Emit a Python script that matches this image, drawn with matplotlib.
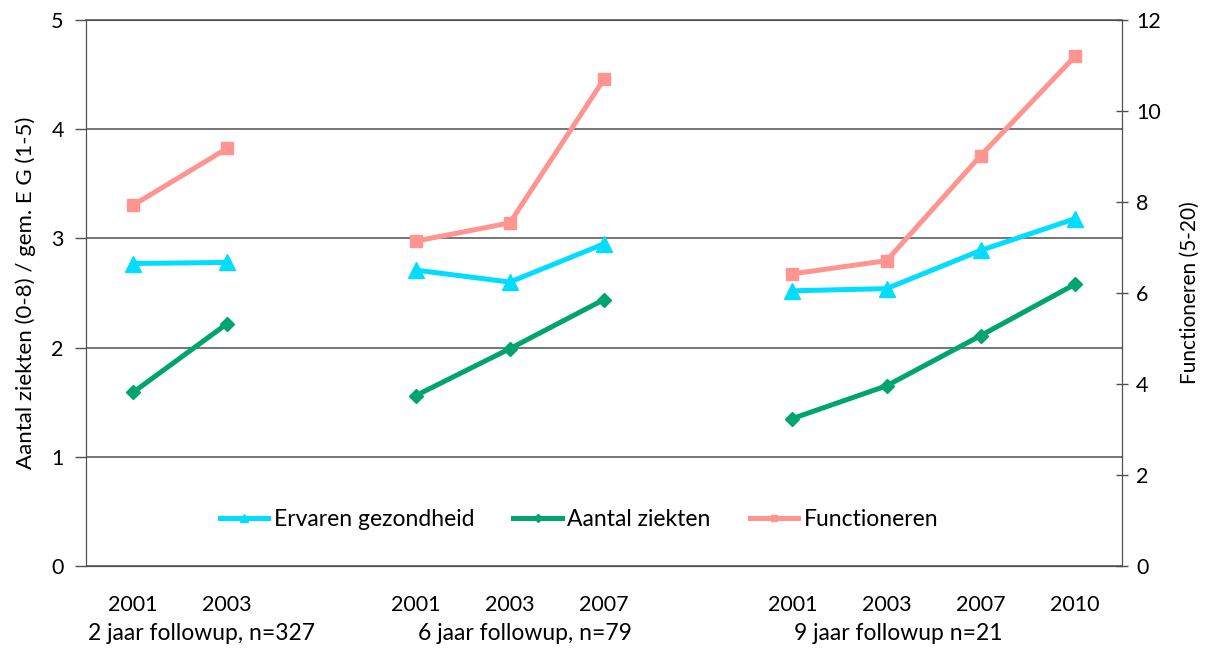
import numpy as np
import matplotlib
matplotlib.use("Agg")
import matplotlib.pyplot as plt
import matplotlib.transforms as mtransforms

plt.rcParams['font.family'] = ['Lato', 'DejaVu Sans']

# Measurement years per follow-up cohort (empty slots separate the cohorts)
years = ['2001', '2003', '', '2001', '2003', '2007', '', '2001', '2003', '2007', '2010']
groups = ['2 jaar followup, n=327', '6 jaar followup, n=79', '9 jaar followup n=21']
group_start = [-0.5, 3.0, 7.0]

nan = np.nan
ervaren = [2.77, 2.78, nan, 2.71, 2.60, 2.95, nan, 2.52, 2.54, 2.89, 3.18]
ziekten = [1.59, 2.22, nan, 1.56, 1.99, 2.44, nan, 1.35, 1.65, 2.11, 2.58]
functioneren = [7.93, 9.18, nan, 7.14, 7.54, 10.70, nan, 6.42, 6.71, 9.02, 11.20]

c_erv = '#00DDFF'
c_zie = '#00A56E'
c_fun = '#FF9490'
grid_c = '#505050'

fig = plt.figure(figsize=(12.09, 6.62), dpi=100)
ax = fig.add_axes([86 / 1209, 1 - 566 / 662, (1122 - 86) / 1209, (566 - 20) / 662])
ax2 = ax.twinx()

x = np.arange(len(years))

l1, = ax.plot(x, ervaren, color=c_erv, lw=3.6, marker='^', ms=11, label='Ervaren gezondheid', zorder=3)
l2, = ax.plot(x, ziekten, color=c_zie, lw=3.6, marker='D', ms=7, label='Aantal ziekten', zorder=3)
l3, = ax2.plot(x, functioneren, color=c_fun, lw=3.6, marker='s', ms=8, label='Functioneren', zorder=3)

ax.set_xlim(-0.5, len(years) - 0.5)
ax.set_ylim(0, 5)
ax2.set_ylim(0, 12)
ax.set_yticks(range(0, 6))
ax2.set_yticks(range(0, 13, 2))

ax.set_xticks(x)
ax.set_xticklabels(years)
ax.tick_params(axis='x', length=0, pad=21, labelsize=15.5)
ax.tick_params(axis='y', length=8, width=1, color=grid_c, pad=8, labelsize=15.5, direction='out')
ax2.tick_params(axis='y', length=8, width=1, color=grid_c, pad=6, labelsize=15.5, direction='inout')

ax.grid(axis='y', color=grid_c, lw=1.1)
ax.set_axisbelow(True)
for sp in ax.spines.values():
    sp.set_color(grid_c)
for sp in ax2.spines.values():
    sp.set_color(grid_c)
ax.spines['top'].set_linewidth(1.1)

ax.set_ylabel('Aantal ziekten (0-8) / gem. E G (1-5)', fontsize=16, labelpad=11)
ax2.set_ylabel('Functioneren (5-20)', fontsize=15, labelpad=14)

trans = mtransforms.blended_transform_factory(ax.transData, ax.transAxes)
for g, xs in zip(groups, group_start):
    ax.text(xs + 0.02, -0.123, g, transform=trans, ha='left', va='center', fontsize=16.5)

ax.legend(handles=[l1, l2, l3], loc='center', bbox_to_anchor=(0.476, 0.086),
          ncol=3, frameon=False, fontsize=16.5, markerscale=0.55,
          handlelength=2.1, columnspacing=1.7, handletextpad=0.25)

fig.savefig('out.png', dpi=100)
